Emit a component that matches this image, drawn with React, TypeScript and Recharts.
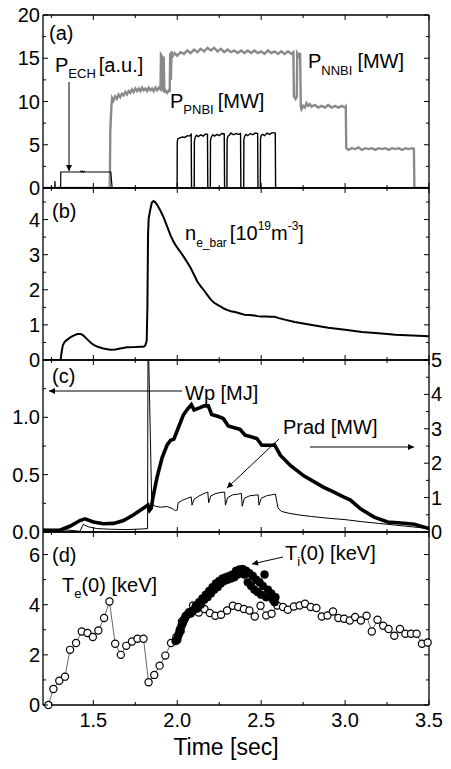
import React from 'react';
import { LineChart, Line, XAxis, YAxis } from 'recharts';

const W = 451;
const H = 769;
const FONT = '"Liberation Sans", Arial, Helvetica, sans-serif';

type Pt = [number, number];
const toObj = (a: Pt[]) => a.map(([t, v]) => ({ t, v }));

// ---------- x axis ----------
const X_DOMAIN: [number, number] = [1.2, 3.5];
const X_TICKS = [1.25, 1.5, 1.75, 2.0, 2.25, 2.5, 2.75, 3.0, 3.25, 3.5];

// ---------- panel (a) ----------
const A_TICKS = [0, 2.5, 5, 7.5, 10, 12.5, 15, 17.5, 20];
const nnbi: Pt[] = [
  [1.2, 0], [1.598, 0], [1.601, 6.5], [1.604, 8.0], [1.608, 9.5], [1.612, 10.4], [1.62, 10.1], [1.63, 10.6],
  [1.64, 10.3], [1.65, 10.8], [1.66, 10.5], [1.67, 10.9], [1.68, 10.7], [1.69, 11.1], [1.7, 10.8], [1.71, 11.2],
  [1.72, 11.0], [1.73, 11.4], [1.74, 11.1], [1.75, 11.5], [1.76, 11.2], [1.77, 11.5], [1.78, 11.2], [1.79, 11.6],
  [1.8, 11.3], [1.81, 11.5], [1.82, 11.2], [1.83, 11.6], [1.84, 11.3], [1.85, 11.5], [1.86, 11.2], [1.87, 11.6],
  [1.88, 11.3], [1.89, 11.6], [1.9, 11.4], [1.903, 15.4], [1.912, 15.1], [1.915, 11.2], [1.919, 15.2], [1.923, 11.0],
  [1.93, 11.3], [1.94, 11.0], [1.95, 11.3], [1.955, 11.1], [1.958, 15.6], [1.962, 12.5], [1.966, 15.8], [1.975, 15.3],
  [1.985, 15.6], [2.0, 15.3], [2.02, 15.7], [2.04, 15.5], [2.06, 15.9], [2.08, 15.6], [2.1, 16.0], [2.12, 15.7],
  [2.14, 16.1], [2.16, 15.8], [2.18, 16.2], [2.2, 15.9], [2.22, 16.2], [2.24, 15.8], [2.26, 16.1], [2.28, 15.7],
  [2.3, 16.0], [2.32, 15.7], [2.34, 15.9], [2.36, 15.6], [2.38, 15.9], [2.4, 15.6], [2.42, 15.9], [2.44, 15.6],
  [2.46, 15.9], [2.48, 15.6], [2.5, 15.8], [2.52, 15.5], [2.54, 15.9], [2.56, 15.6], [2.58, 15.8], [2.6, 15.5],
  [2.62, 15.8], [2.64, 15.5], [2.66, 15.8], [2.68, 15.5], [2.692, 15.7], [2.695, 10.6], [2.705, 10.3], [2.712, 10.6],
  [2.715, 15.6], [2.725, 15.3], [2.732, 15.6], [2.736, 9.4], [2.74, 9.1], [2.75, 9.5], [2.76, 9.3], [2.77, 9.8],
  [2.78, 9.5], [2.79, 9.7], [2.8, 9.4], [2.82, 9.6], [2.84, 9.3], [2.86, 9.5], [2.88, 9.3], [2.9, 9.6],
  [2.92, 9.3], [2.94, 9.5], [2.96, 9.3], [2.98, 9.5], [3.0, 9.3], [3.004, 9.4], [3.007, 4.6], [3.02, 4.4],
  [3.04, 4.6], [3.06, 4.5], [3.08, 4.7], [3.1, 4.4], [3.12, 4.6], [3.14, 4.5], [3.16, 4.6], [3.18, 4.4],
  [3.2, 4.6], [3.22, 4.5], [3.24, 4.6], [3.26, 4.4], [3.28, 4.6], [3.3, 4.5], [3.32, 4.6], [3.34, 4.4],
  [3.36, 4.6], [3.38, 4.5], [3.4, 4.6], [3.41, 4.5], [3.413, 0], [3.5, 0],
];
const pnbi: Pt[] = [
  [1.2, 0], [1.999, 0], [2.0, 5.3], [2.004, 5.7], [2.015, 5.8], [2.03, 5.9], [2.045, 5.85], [2.06, 6.05], [2.072, 6.0], [2.083, 6.2], [2.085, 0],
  [2.101, 0], [2.102, 5.4], [2.107, 5.9], [2.115, 6.1], [2.125, 5.95], [2.14, 6.15], [2.155, 6.0], [2.168, 6.25], [2.18, 6.2], [2.182, 0],
  [2.197, 0], [2.198, 5.5], [2.203, 5.9], [2.212, 6.15], [2.222, 6.0], [2.237, 6.2], [2.25, 6.05], [2.265, 6.3], [2.28, 6.25], [2.282, 0],
  [2.296, 0], [2.297, 5.6], [2.302, 6.0], [2.31, 6.1], [2.32, 6.35], [2.335, 6.15], [2.35, 6.3], [2.365, 6.2], [2.377, 6.3], [2.379, 0],
  [2.396, 0], [2.397, 5.6], [2.402, 6.0], [2.41, 6.2], [2.42, 6.05], [2.435, 6.3], [2.45, 6.15], [2.465, 6.35], [2.479, 6.3], [2.481, 0],
  [2.495, 0], [2.496, 5.7], [2.501, 6.1], [2.51, 6.2], [2.52, 6.05], [2.535, 6.35], [2.55, 6.2], [2.565, 6.4], [2.584, 6.35], [2.586, 0],
  [3.5, 0],
];
const ech: Pt[] = [
  [1.2, 0], [1.27, 0], [1.271, 0.8], [1.273, 0], [1.305, 0], [1.306, 1.85], [1.42, 1.85], [1.425, 1.95], [1.43, 1.82],
  [1.435, 1.95], [1.44, 1.82], [1.445, 1.92], [1.45, 1.85], [1.604, 1.85], [1.612, 0], [1.62, 0],
];

// ---------- panel (b) ----------
const B_TICKS = [0, 0.5, 1, 1.5, 2, 2.5, 3, 3.5, 4, 4.5];
const ne: Pt[] = [
  [1.2, 0], [1.305, 0], [1.31, 0.2], [1.318, 0.42], [1.33, 0.52], [1.345, 0.58], [1.365, 0.65], [1.385, 0.7],
  [1.405, 0.74], [1.425, 0.74], [1.44, 0.7], [1.455, 0.63], [1.47, 0.56], [1.49, 0.47], [1.51, 0.41], [1.53, 0.37],
  [1.56, 0.33], [1.6, 0.29], [1.63, 0.3], [1.66, 0.33], [1.7, 0.36], [1.75, 0.37], [1.78, 0.38], [1.8, 0.38],
  [1.81, 0.42], [1.818, 0.55], [1.822, 1.5], [1.826, 3.6], [1.83, 4.05], [1.838, 4.25], [1.848, 4.48], [1.858, 4.53],
  [1.868, 4.5], [1.88, 4.42], [1.9, 4.25], [1.92, 4.05], [1.94, 3.8], [1.96, 3.55], [1.98, 3.35], [2.0, 3.2],
  [2.02, 3.07], [2.04, 2.93], [2.06, 2.78], [2.08, 2.62], [2.1, 2.43], [2.12, 2.23], [2.14, 2.1], [2.16, 1.98],
  [2.18, 1.85], [2.2, 1.72], [2.22, 1.63], [2.24, 1.57], [2.26, 1.52], [2.28, 1.46], [2.3, 1.42], [2.32, 1.39],
  [2.35, 1.36], [2.38, 1.32], [2.4, 1.29], [2.43, 1.28], [2.46, 1.27], [2.48, 1.25], [2.5, 1.24], [2.53, 1.24],
  [2.56, 1.23], [2.58, 1.23], [2.6, 1.2], [2.64, 1.15], [2.7, 1.08], [2.76, 1.03], [2.82, 0.98], [2.9, 0.92],
  [3.0, 0.86], [3.1, 0.8], [3.2, 0.76], [3.3, 0.72], [3.4, 0.7], [3.5, 0.68],
];

// ---------- panel (c) ----------
const C_LEFT_TICKS = [0, 0.25, 0.5, 0.75, 1.0, 1.25];
const C_RIGHT_TICKS = [0, 0.5, 1, 1.5, 2, 2.5, 3, 3.5, 4, 4.5, 5];
const wp: Pt[] = [
  [1.2, 0.015], [1.3, 0.015], [1.36, 0.05], [1.42, 0.1], [1.45, 0.115], [1.5, 0.087], [1.56, 0.072], [1.62, 0.075],
  [1.68, 0.1], [1.74, 0.15], [1.8, 0.21], [1.825, 0.235], [1.835, 0.19], [1.845, 0.21], [1.855, 0.3], [1.88, 0.48],
  [1.91, 0.65], [1.94, 0.76], [1.96, 0.8], [1.98, 0.81], [2.0, 0.885], [2.036, 1.02], [2.06, 1.07], [2.084, 1.11],
  [2.1, 1.065], [2.136, 1.085], [2.16, 1.1], [2.185, 1.1], [2.205, 1.025], [2.24, 1.01], [2.274, 0.99], [2.304, 0.925],
  [2.34, 0.91], [2.374, 0.895], [2.404, 0.845], [2.44, 0.83], [2.474, 0.815], [2.504, 0.756], [2.56, 0.756], [2.58, 0.76],
  [2.614, 0.67], [2.674, 0.58], [2.754, 0.49], [2.873, 0.39], [2.934, 0.348], [2.993, 0.305], [3.03, 0.28], [3.094, 0.2],
  [3.173, 0.13], [3.253, 0.087], [3.333, 0.078], [3.412, 0.067], [3.5, 0.03],
];
const prad: Pt[] = [
  [1.2, 0.08], [1.3, 0.07], [1.36, 0.05], [1.42, 0.02], [1.44, 0.22], [1.47, 0.15], [1.52, 0.1], [1.6, 0.08],
  [1.7, 0.07], [1.8, 0.09], [1.823, 0.1], [1.826, 6], [1.848, 0.8], [1.87, 0.75], [1.9, 0.72], [1.94, 0.74],
  [1.97, 0.68], [1.99, 0.62], [2.0, 0.64], [2.005, 0.85], [2.03, 0.92], [2.06, 0.98], [2.083, 1.02], [2.088, 0.78],
  [2.1, 0.95], [2.13, 1.05], [2.16, 1.12], [2.182, 1.16], [2.187, 0.85], [2.2, 1.05], [2.23, 1.12], [2.26, 1.15],
  [2.282, 1.16], [2.287, 0.78], [2.3, 1.0], [2.33, 1.08], [2.36, 1.1], [2.382, 1.12], [2.387, 0.75], [2.4, 0.98],
  [2.43, 1.05], [2.46, 1.07], [2.482, 1.08], [2.487, 0.78], [2.5, 0.98], [2.53, 1.05], [2.56, 1.08], [2.585, 1.1],
  [2.6, 0.7], [2.62, 0.6], [2.66, 0.55], [2.72, 0.5], [2.8, 0.45], [2.9, 0.4], [3.0, 0.36], [3.1, 0.3],
  [3.2, 0.25], [3.3, 0.2], [3.4, 0.15], [3.5, 0.1],
];

// ---------- panel (d) ----------
const D_TICKS = [0, 1, 2, 3, 4, 5, 6];
const te: Pt[] = [
  [1.232, 0], [1.262, 0.64], [1.297, 0.97], [1.331, 1.13], [1.361, 2.2], [1.397, 2.47], [1.431, 2.93], [1.465, 2.87],
  [1.497, 2.71], [1.53, 2.97], [1.564, 3.47], [1.596, 4.13], [1.63, 2.44], [1.664, 2.0], [1.696, 2.36], [1.73, 2.53],
  [1.763, 2.64], [1.799, 2.64], [1.829, 0.91], [1.863, 1.2], [1.895, 1.57], [1.929, 1.97], [1.963, 2.47], [1.995, 2.71],
  [2.028, 3.33], [2.094, 3.97], [2.128, 3.69], [2.162, 3.83], [2.194, 3.67], [2.227, 3.56], [2.261, 3.6], [2.297, 3.77],
  [2.331, 3.96], [2.363, 3.91], [2.397, 3.83], [2.43, 3.77], [2.462, 3.53], [2.496, 3.96], [2.53, 3.57], [2.562, 3.64],
  [2.596, 3.97], [2.63, 3.91], [2.659, 3.8], [2.695, 3.93], [2.729, 3.97], [2.761, 4.04], [2.795, 3.91], [2.829, 3.87],
  [2.861, 3.53], [2.895, 3.57], [2.928, 3.73], [2.96, 3.47], [2.994, 3.44], [3.028, 3.37], [3.06, 3.51], [3.094, 3.37],
  [3.128, 3.56], [3.159, 2.93], [3.193, 3.4], [3.227, 3.16], [3.259, 3.03], [3.293, 2.76], [3.327, 3.03], [3.359, 2.84],
  [3.393, 2.84], [3.426, 2.84], [3.458, 2.44], [3.492, 2.49],
];
const ti: Pt[] = [
  [1.99, 2.55], [2.0, 2.6], [2.005, 2.75], [2.01, 2.85], [2.015, 3.0], [2.02, 2.95], [2.025, 3.15], [2.03, 3.25],
  [2.035, 3.3], [2.04, 3.4], [2.045, 3.45], [2.05, 3.55], [2.06, 3.6], [2.07, 3.7], [2.08, 3.65], [2.09, 3.75],
  [2.1, 3.8], [2.11, 3.95], [2.12, 3.85], [2.13, 4.1], [2.14, 4.0], [2.15, 4.25], [2.16, 4.2], [2.17, 4.4],
  [2.18, 4.3], [2.19, 4.55], [2.2, 4.45], [2.21, 4.7], [2.22, 4.6], [2.23, 4.85], [2.24, 4.7], [2.25, 4.95],
  [2.26, 4.85], [2.27, 5.05], [2.28, 4.95], [2.29, 5.1], [2.3, 5.0], [2.31, 5.15], [2.32, 5.05], [2.33, 5.2],
  [2.34, 5.1], [2.35, 5.35], [2.36, 5.2], [2.37, 5.4], [2.38, 5.3], [2.39, 5.42], [2.4, 5.2], [2.41, 5.35],
  [2.42, 4.9], [2.43, 5.25], [2.44, 4.75], [2.45, 5.15], [2.46, 4.6], [2.47, 5.0], [2.48, 4.5], [2.49, 4.9],
  [2.5, 4.4], [2.51, 4.75], [2.52, 5.2], [2.53, 4.3], [2.54, 4.6], [2.55, 4.35], [2.56, 4.45], [2.57, 4.2],
  [2.58, 4.1], [2.585, 4.3],
];

// ---------- tick renderers ----------
type Side = 'bottom' | 'top' | 'left' | 'right';
const isMajor = (v: number, step: number) => Math.abs(v / step - Math.round(v / step)) < 1e-6;

const makeTick = (side: Side, step: number, fmt: ((v: number) => string) | null) => (props: any) => {
  const { x, y, payload } = props;
  const v = Number(payload.value);
  const major = isMajor(v, step);
  const L = major ? 5 : 3;
  let ln: React.ReactNode = null;
  let tx: React.ReactNode = null;
  const common = { fontFamily: FONT, fontSize: 20, fill: '#000' };
  if (side === 'bottom') {
    ln = <line x1={x} y1={y} x2={x} y2={y - L} stroke="#000" strokeWidth={1} />;
    if (fmt && major) tx = <text x={x} y={y + 22} textAnchor="middle" {...common}>{fmt(v)}</text>;
  } else if (side === 'top') {
    ln = <line x1={x} y1={y} x2={x} y2={y + L} stroke="#000" strokeWidth={1} />;
  } else if (side === 'left') {
    ln = <line x1={x} y1={y} x2={x + L} y2={y} stroke="#000" strokeWidth={1} />;
    if (fmt && major) tx = <text x={x - 3} y={y + 7} textAnchor="end" {...common}>{fmt(v)}</text>;
  } else {
    ln = <line x1={x} y1={y} x2={x - L} y2={y} stroke="#000" strokeWidth={1} />;
    if (fmt && major) tx = <text x={x + 2} y={y + 7} textAnchor="start" {...common}>{fmt(v)}</text>;
  }
  return <g>{ln}{tx}</g>;
};

const fmtInt = (v: number) => String(v);
const fmt1 = (v: number) => v.toFixed(1);

interface AxisCfg {
  domain: [number, number];
  ticks: number[];
  step: number;
  fmt: ((v: number) => string) | null;
}

const axisLine = { stroke: '#000', strokeWidth: 1.3 };

function panel(
  key: string,
  top: number,
  bottom: number,
  left: AxisCfg,
  right: AxisCfg,
  showX: boolean,
  lines: React.ReactNode[],
) {
  return (
    <div key={key} style={{ position: 'absolute', left: 0, top: 0, width: W, height: H }}>
      <LineChart width={W} height={H} margin={{ top: top - 1, bottom: H - bottom - 1, left: 0, right: 0 }}>
        <XAxis xAxisId="b" type="number" dataKey="t" domain={X_DOMAIN} ticks={X_TICKS} interval={0}
          allowDataOverflow orientation="bottom" height={1} tickSize={0} tickMargin={0} tickLine={false}
          axisLine={axisLine} tick={makeTick('bottom', 0.5, showX ? fmt1 : null)} />
        <XAxis xAxisId="t" type="number" dataKey="t" domain={X_DOMAIN} ticks={X_TICKS} interval={0}
          allowDataOverflow orientation="top" height={1} tickSize={0} tickMargin={0} tickLine={false}
          axisLine={axisLine} tick={makeTick('top', 0.5, null)} />
        <YAxis yAxisId="l" type="number" dataKey="v" domain={left.domain} ticks={left.ticks} interval={0}
          allowDataOverflow orientation="left" width={43} tickSize={0} tickMargin={0} tickLine={false}
          axisLine={axisLine} tick={makeTick('left', left.step, left.fmt)} />
        <YAxis yAxisId="r" type="number" dataKey="v" domain={right.domain} ticks={right.ticks} interval={0}
          allowDataOverflow orientation="right" width={22} tickSize={0} tickMargin={0} tickLine={false}
          axisLine={axisLine} tick={makeTick('right', right.step, right.fmt)} />
        {lines}
      </LineChart>
    </div>
  );
}

const lineBase = { xAxisId: 'b', dataKey: 'v', isAnimationActive: false, activeDot: false as const, type: 'linear' as const };

export default function App() {
  const aAxis: AxisCfg = { domain: [0, 20], ticks: A_TICKS, step: 5, fmt: fmtInt };
  const aR: AxisCfg = { ...aAxis, fmt: null };
  const bAxis: AxisCfg = { domain: [0, 4.9], ticks: B_TICKS, step: 1, fmt: fmtInt };
  const bR: AxisCfg = { ...bAxis, fmt: null };
  const cL: AxisCfg = { domain: [0, 1.5], ticks: C_LEFT_TICKS, step: 0.5, fmt: fmt1 };
  const cR: AxisCfg = { domain: [0, 5], ticks: C_RIGHT_TICKS, step: 1, fmt: fmtInt };
  const dAxis: AxisCfg = { domain: [0, 6.9], ticks: D_TICKS, step: 2, fmt: fmtInt };
  const dR: AxisCfg = { ...dAxis, fmt: null };

  const arrow = { stroke: '#000', strokeWidth: 1, markerEnd: 'url(#ah)' };
  const txt = { fontFamily: FONT, fontSize: 20, fill: '#000' };

  return (
    <div style={{ position: 'absolute', left: 0, top: 0, width: W, height: H, background: '#fff' }}>
      {panel('a', 15, 188, aAxis, aR, false, [
        <Line key="nnbi" {...lineBase} yAxisId="l" data={toObj(nnbi)} stroke="#8a8a8a" strokeWidth={2.4} dot={false} />,
        <Line key="ech" {...lineBase} yAxisId="l" data={toObj(ech)} stroke="#000" strokeWidth={1.2} dot={false} />,
        <Line key="pnbi" {...lineBase} yAxisId="l" data={toObj(pnbi)} stroke="#000" strokeWidth={1.4} dot={false} />,
      ])}
      {panel('b', 188, 360, bAxis, bR, false, [
        <Line key="ne" {...lineBase} yAxisId="l" data={toObj(ne)} stroke="#000" strokeWidth={2} dot={false} />,
      ])}
      {panel('c', 360, 532, cL, cR, false, [
        <Line key="prad" {...lineBase} yAxisId="r" data={toObj(prad)} stroke="#000" strokeWidth={1} dot={false} />,
        <Line key="wp" {...lineBase} yAxisId="l" data={toObj(wp)} stroke="#000" strokeWidth={3.6} dot={false} />,
      ])}
      {panel('d', 532, 705, dAxis, dR, true, [
        <Line key="te" {...lineBase} yAxisId="l" data={toObj(te)} stroke="#000" strokeWidth={0.6}
          dot={{ r: 3.6, fill: '#fff', stroke: '#000', strokeWidth: 1.2, clipDot: false } as any} />,
        <Line key="ti" {...lineBase} yAxisId="l" data={toObj(ti)} stroke="none" strokeWidth={0}
          dot={{ r: 4, fill: '#000', stroke: '#000', strokeWidth: 0.5, clipDot: false } as any} />,
      ])}
      <svg width={W} height={H} style={{ position: 'absolute', left: 0, top: 0, pointerEvents: 'none' }}>
        <defs>
          <marker id="ah" viewBox="0 0 10 10" refX="10" refY="5" markerWidth="7" markerHeight="6"
            markerUnits="userSpaceOnUse" orient="auto">
            <path d="M0,0 L10,5 L0,10 z" fill="#000" />
          </marker>
        </defs>
        <text x={49} y={40} {...txt}>(a)</text>
        <text x={55} y={72} {...txt}>P<tspan fontSize={13} dy={6}>ECH</tspan><tspan dy={-6} dx={3}>[a.u.]</tspan></text>
        <line x1={69} y1={82} x2={69} y2={171} {...arrow} />
        <text x={170} y={108} {...txt}>P<tspan fontSize={13} dy={6}>PNBI</tspan><tspan dy={-6} dx={4}>[MW]</tspan></text>
        <text x={308} y={68} {...txt}>P<tspan fontSize={13} dy={7}>NNBI</tspan><tspan dy={-7} dx={5}>[MW]</tspan></text>
        <text x={52} y={218} {...txt}>(b)</text>
        <text x={185} y={240} {...txt}>n<tspan fontSize={12} dy={7}>e_bar</tspan><tspan dy={-7} dx={3}>[10</tspan><tspan fontSize={12} dy={-10}>19</tspan><tspan dy={10}>m</tspan><tspan fontSize={12} dy={-10}>-3</tspan><tspan dy={10}>]</tspan></text>
        <text x={52} y={383} {...txt}>(c)</text>
        <text x={185} y={400} {...txt}>Wp [MJ]</text>
        <line x1={182} y1={391} x2={49} y2={391} {...arrow} />
        <text x={283} y={434} {...txt}>Prad [MW]</text>
        <line x1={279} y1={439} x2={227} y2={488} {...arrow} />
        <line x1={310} y1={447} x2={414} y2={447} {...arrow} />
        <text x={52} y={562} {...txt}>(d)</text>
        <text x={285} y={560} {...txt}>T<tspan fontSize={13} dy={6}>i</tspan><tspan dy={-6}>(0) [keV]</tspan></text>
        <line x1={283} y1={557} x2={252} y2={564} {...arrow} />
        <text x={62} y={592} {...txt}>T<tspan fontSize={13} dy={6}>e</tspan><tspan dy={-6}>(0) [keV]</tspan></text>
        <text x={226} y={755} textAnchor="middle" fontFamily={FONT} fontSize={23} fill="#000">Time [sec]</text>
      </svg>
    </div>
  );
}
